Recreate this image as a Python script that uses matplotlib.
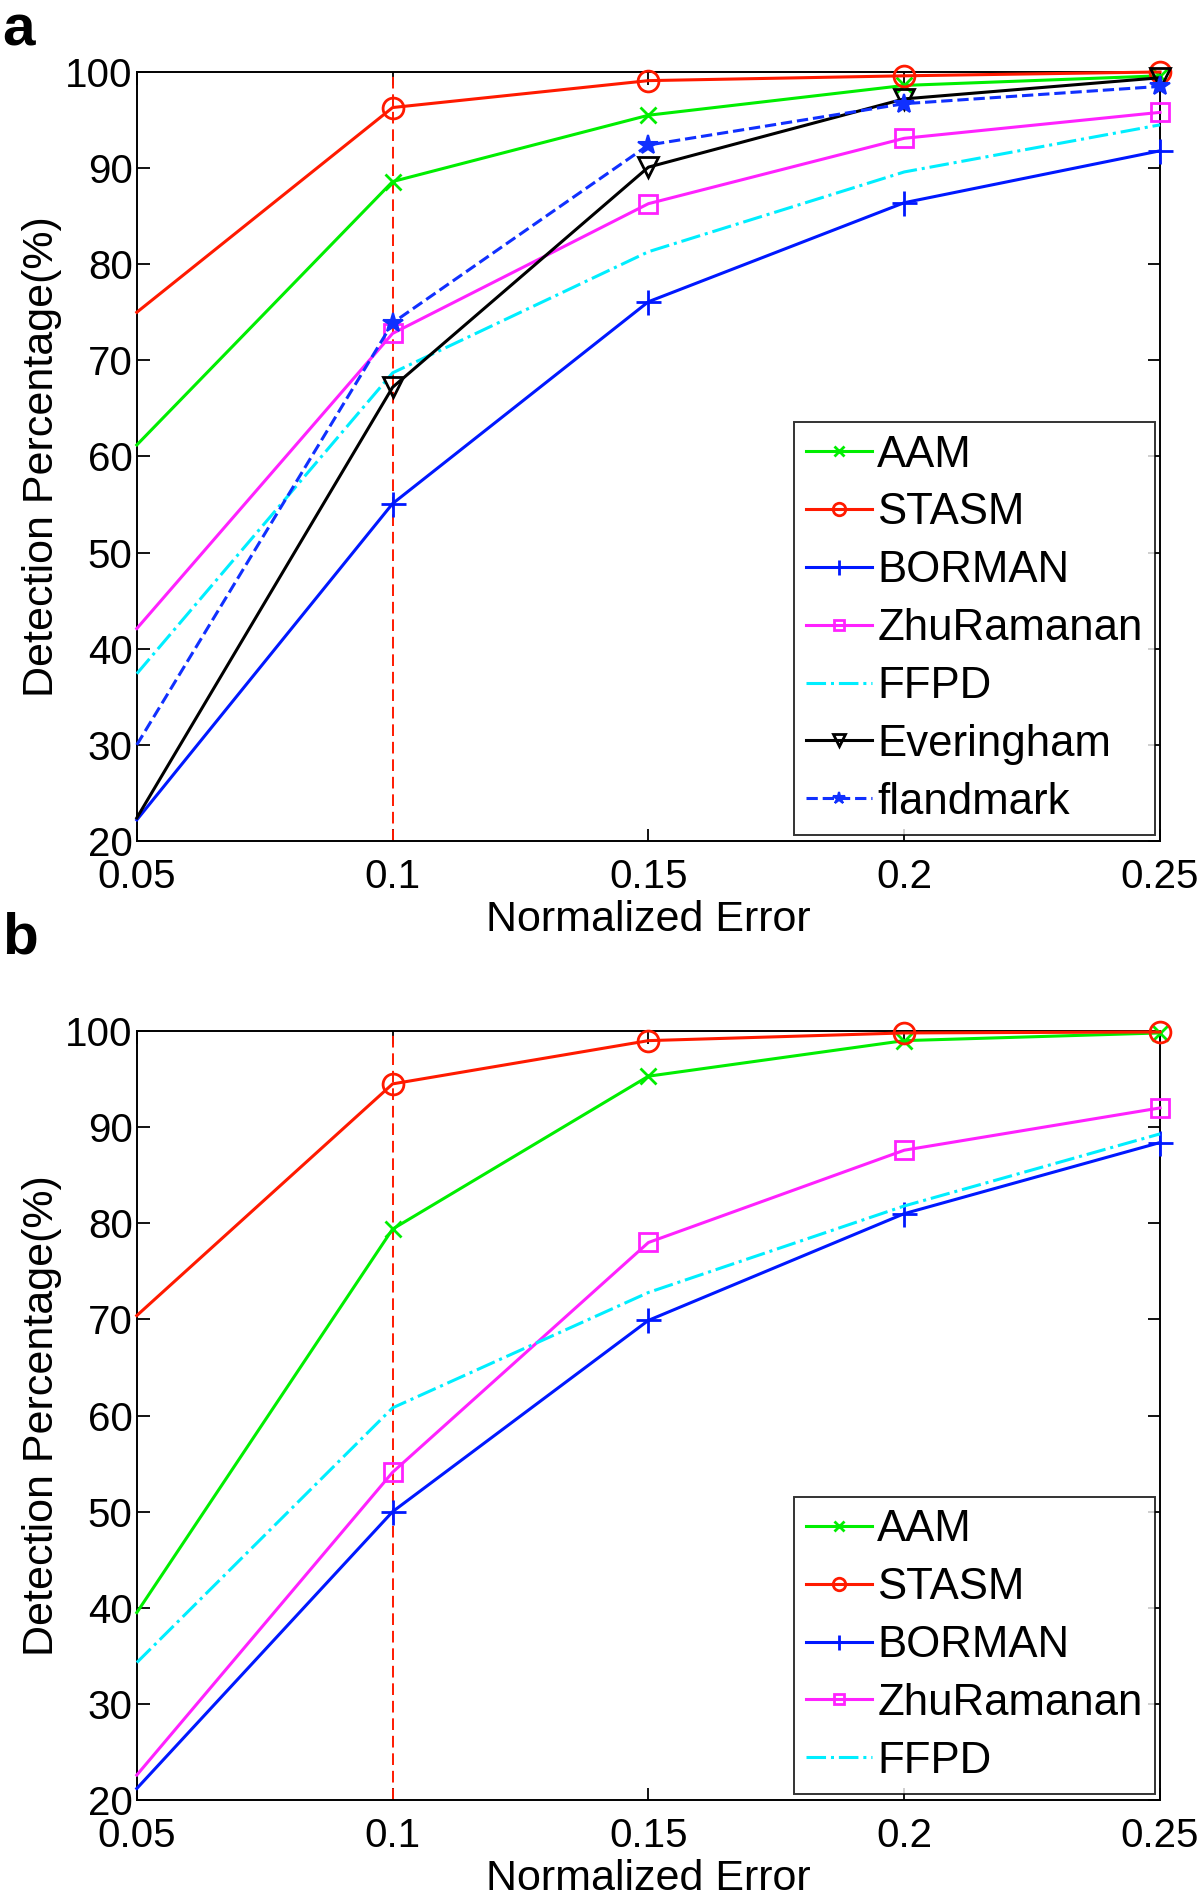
import matplotlib
matplotlib.use("Agg")
import matplotlib.pyplot as plt

# --- datos ---
x_err = [0.05, 0.10, 0.15, 0.20, 0.25]
x_ticks = [0.05, 0.1, 0.15, 0.2, 0.25]
x_tick_labels = ["0.05", "0.1", "0.15", "0.2", "0.25"]
y_ticks = [20, 30, 40, 50, 60, 70, 80, 90, 100]

# panel a
a_aam = [61.2, 88.6, 95.5, 98.6, 99.6]
a_stasm = [75.0, 96.3, 99.1, 99.6, 100.0]
a_borman = [22.2, 55.1, 76.1, 86.4, 91.8]
a_zhu = [42.1, 72.8, 86.3, 93.1, 95.8]
a_ffpd = [37.4, 68.7, 81.3, 89.6, 94.5]
a_ever = [22.4, 67.2, 90.1, 97.2, 99.4]
a_fland = [30.0, 73.9, 92.4, 96.7, 98.5]

# panel b
b_aam = [39.5, 79.4, 95.3, 99.0, 99.8]
b_stasm = [70.4, 94.5, 99.0, 99.8, 99.9]
b_borman = [21.2, 50.0, 69.9, 81.0, 88.4]
b_zhu = [22.6, 54.1, 78.0, 87.6, 92.0]
b_ffpd = [34.3, 60.8, 72.8, 81.8, 89.3]

FONT = "Liberation Sans"
plt.rcParams["font.family"] = [FONT, "DejaVu Sans"]

ESTILOS = {
    "AAM": dict(color="#00ee00", marker="x", ls="-", ms=11, mew=2),
    "STASM": dict(color="#ff1a00", marker="o", ls="-", ms=15, mfc="none", mew=2),
    "BORMAN": dict(color="#0018ff", marker="+", ls="-", ms=18, mew=2),
    "ZhuRamanan": dict(color="#ff22ff", marker="s", ls="-", ms=13, mfc="none", mew=2),
    "FFPD": dict(color="#00eeff", marker="None", ls="-.", ms=10),
    "Everingham": dict(color="black", marker="v", ls="-", ms=14, mfc="none", mew=2),
    "flandmark": dict(color="#1030ff", marker="*", ls="--", ms=15, mew=1.5),
}


def dibujar_panel(ax, series):
    for nombre, valores in series:
        st = ESTILOS[nombre]
        # sin marcador en el primer punto (como en la figura original)
        ax.plot(x_err, valores, label=nombre, lw=2.2, clip_on=False, zorder=3,
                markevery=[1, 2, 3, 4], **st)

    ax.axvline(0.1, color="#ff1a00", ls=(0, (6, 3)), lw=1.4, zorder=2)
    ax.set_xlim(0.05, 0.25)
    ax.set_ylim(20, 100)
    ax.set_xticks(x_ticks)
    ax.set_xticklabels(x_tick_labels)
    ax.set_yticks(y_ticks)
    ax.tick_params(direction="in", top=True, right=True, length=9, width=1.3,
                   labelsize=29)
    ax.tick_params(axis="x", pad=12)
    ax.tick_params(axis="y", pad=3)
    for sp in ax.spines.values():
        sp.set_linewidth(1.4)
    ax.set_xlabel("Normalized Error", fontsize=31, labelpad=3)
    ax.set_ylabel("Detection Percentage(%)", fontsize=31, labelpad=2)

    leg = ax.legend(loc="lower right", bbox_to_anchor=(0.995, 0.008), fontsize=31.5,
                    frameon=True, fancybox=False, edgecolor="black",
                    handlelength=1.5, handletextpad=0.12, labelspacing=0.385,
                    borderpad=0.28, borderaxespad=0.0, markerscale=0.6)
    leg.get_frame().set_linewidth(1.4)
    leg.set_zorder(5)
    return leg


fig = plt.figure(figsize=(12, 19.04), dpi=100)

ax_a = fig.add_axes([0.114, 0.5583, 0.8527, 0.4039])
dibujar_panel(ax_a, [("AAM", a_aam), ("STASM", a_stasm), ("BORMAN", a_borman),
                     ("ZhuRamanan", a_zhu), ("FFPD", a_ffpd),
                     ("Everingham", a_ever), ("flandmark", a_fland)])

ax_b = fig.add_axes([0.114, 0.0546, 0.8527, 0.4039])
dibujar_panel(ax_b, [("AAM", b_aam), ("STASM", b_stasm), ("BORMAN", b_borman),
                     ("ZhuRamanan", b_zhu), ("FFPD", b_ffpd)])

fig.text(0.002, 0.984, "a", fontsize=42, fontweight="bold", va="center", ha="left")
fig.text(0.002, 0.507, "b", fontsize=42, fontweight="bold", va="center", ha="left")

fig.savefig("out.png", dpi=100)
